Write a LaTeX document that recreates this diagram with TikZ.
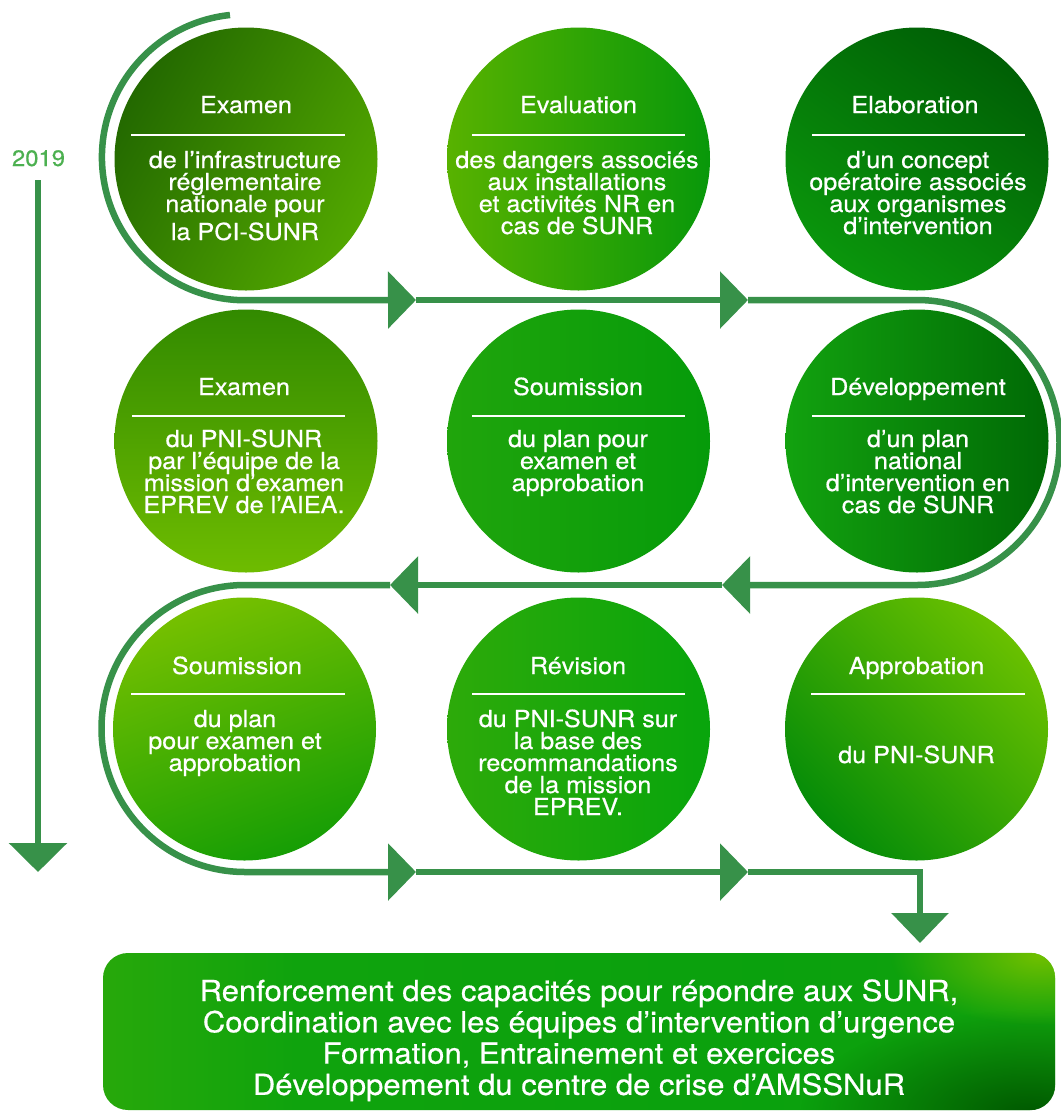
\documentclass[tikz,border=0pt]{standalone}
\usepackage{fontspec}
\setmainfont{TeX Gyre Heros}[FakeStretch=1.07,FakeBold=0.6]
\usetikzlibrary{arrows.meta,calc,fadings}
\definecolor{lnk}{RGB}{55,145,73}
\definecolor{yr}{RGB}{76,176,80}
\definecolor{boxdark}{RGB}{0,88,0}
\definecolor{boxlite}{RGB}{112,192,0}
\tikzfading[name=glow, inner color=transparent!0, outer color=transparent!100]
\pgfdeclarehorizontalshading{boxsh}{100bp}{%
  rgb(0bp)=(0.40,0.73,0.00);
  rgb(20bp)=(0.20,0.67,0.04);
  rgb(35bp)=(0.06,0.64,0.05);
  rgb(60bp)=(0.04,0.63,0.05);
  rgb(85bp)=(0.08,0.63,0.05);
  rgb(100bp)=(0.30,0.68,0.02)}
\newcommand\bodytxt[1]{\parbox[t]{300pt}{\centering\fontsize{23.5}{22}\selectfont\lineskiplimit=-30pt\relax #1\par}}
\tikzset{
  disc/.style={circle, minimum size=263pt, inner sep=0pt},
  ttl/.style={anchor=base, inner sep=0pt, text=white, font=\fontsize{23.5}{26}\selectfont},
  bdy/.style={anchor=base, inner sep=0pt, text=white},
  rulew/.style={white, line width=2pt},
  flow/.style={draw=lnk, line width=6.5pt},
  tipH/.style={-{Triangle[length=28pt,width=56pt]}},
  tipV/.style={-{Triangle[length=30pt,width=56pt]}},
}
\begin{document}
\begin{tikzpicture}[x=1pt,y=-1pt]
\useasboundingbox[fill=white] (0,0) rectangle (1061,1112);

% circles
\node[disc, top color={rgb,255:red,35;green,105;blue,0}, bottom color={rgb,255:red,82;green,167;blue,0}, shading angle=60] (c11) at (246,159) {};
\node[disc, left color={rgb,255:red,88;green,178;blue,0}, right color={rgb,255:red,8;green,152;blue,10}] (c12) at (578.5,159) {};
\node[disc, top color={rgb,255:red,0;green,95;blue,5}, bottom color={rgb,255:red,10;green,150;blue,12}, shading angle=-35] (c13) at (917,159) {};
\node[disc, top color={rgb,255:red,50;green,138;blue,0}, bottom color={rgb,255:red,110;green,188;blue,0}] (c21) at (246,441) {};
\node[disc, left color={rgb,255:red,32;green,165;blue,12}, right color={rgb,255:red,5;green,155;blue,10}] (c22) at (578.5,441) {};
\node[disc, left color={rgb,255:red,18;green,162;blue,15}, right color={rgb,255:red,0;green,105;blue,5}] (c23) at (917,441) {};
\node[disc, top color={rgb,255:red,118;green,192;blue,0}, bottom color={rgb,255:red,22;green,158;blue,5}, shading angle=20] (c31) at (244.5,729) {};
\node[disc, left color={rgb,255:red,45;green,170;blue,10}, right color={rgb,255:red,8;green,165;blue,12}] (c32) at (578.5,729) {};
\node[disc, top color={rgb,255:red,105;green,192;blue,0}, bottom color={rgb,255:red,5;green,140;blue,8}, shading angle=-45] (c33) at (916.5,729) {};

% rules
\draw[rulew] (131,135) -- (345,135);
\draw[rulew] (472,135) -- (685,135);
\draw[rulew] (812,135) -- (1025,135);
\draw[rulew] (132,416) -- (345,416);
\draw[rulew] (472,416) -- (685,416);
\draw[rulew] (812,416) -- (1025,416);
\draw[rulew] (131,694) -- (345,694);
\draw[rulew] (472,694) -- (685,694);
\draw[rulew] (811,694) -- (1025,694);

% titles
\node[ttl] (t11) at (246,113) {Examen};
\node[ttl] (t12) at (578.5,113) {Evaluation};
\node[ttl] (t13) at (915,113) {Elaboration};
\node[ttl] (t21) at (244,395) {Examen};
\node[ttl] (t22) at (578,395) {Soumission};
\node[ttl] (t23) at (918,395) {Développement};
\node[ttl] (t31) at (237,674) {Soumission};
\node[ttl] (t32) at (578,674) {Révision};
\node[ttl] (t33) at (916.5,674) {Approbation};

% bodies
\node[bdy] (b11) at (245,168) {\bodytxt{de l’infrastructure\\réglementaire\\nationale pour\\[6pt]la PCI-SUNR}};
\node[bdy] (b12) at (577,168) {\bodytxt{des dangers associés\\aux installations\\et activités NR en\\cas de SUNR}};
\node[bdy] (b13) at (918,168) {\bodytxt{d’un concept\\opératoire associés\\aux organismes\\d’intervention}};
\node[bdy] (b21) at (244,447) {\bodytxt{du PNI-SUNR\\par l’équipe de la\\mission d’examen\\EPREV de l’AIEA.}};
\node[bdy] (b22) at (578,447) {\bodytxt{du plan pour\\examen et\\approbation}};
\node[bdy] (b23) at (918,447) {\bodytxt{d’un plan\\national\\d’intervention en\\cas de SUNR}};
\node[bdy] (b31) at (235,727) {\bodytxt{du plan\\pour examen et\\approbation}};
\node[bdy] (b32) at (578,727) {\bodytxt{du PNI-SUNR sur\\la base des\\recommandations\\de la mission\\EPREV.}};
\node[bdy] (b33) at (916.5,763) {\bodytxt{du PNI-SUNR}};

% timeline
\node[anchor=base, inner sep=0pt, text=yr, font=\fontsize{22.3}{24}\selectfont] (year) at (38.5,166) {2019};
\coordinate (y0) at (38,180);
\coordinate (y1) at (38,872);
\draw[flow, -{Triangle[length=29pt,width=57pt]}] (y0) -- (y1);

% flow path
\coordinate (s0) at (230,15);
\coordinate (h1) at (416,300);
\coordinate (h2) at (748,300);
\coordinate (k1) at (917,300);
\coordinate (h3) at (722,585);
\coordinate (h4) at (390,585);
\coordinate (k2) at (245,585);
\coordinate (h5) at (416,872);
\coordinate (h6) at (748,872);
\coordinate (k3) at (920,872);
\coordinate (d1) at (920,943);
\draw[flow,tipH] (s0) arc[start angle=264, end angle=90, radius=143] -- (h1);
\draw[flow,tipH] (h1) -- (h2);
\draw[flow,tipH] (h2) -- (k1) arc[start angle=-90, end angle=90, radius=142.5] -- (h3);
\draw[flow,tipH] (h3) -- (h4);
\draw[flow,tipH] (h4) -- (k2) arc[start angle=270, end angle=90, radius=143.5] -- (h5);
\draw[flow,tipH] (h5) -- (h6);
\draw[flow,tipV] (h6) -- (k3) -- (d1);

% final box
\node[rounded corners=25pt, minimum width=952pt, minimum height=157pt, inner sep=0pt,
  shading=boxsh] (box) at (579,1031.5) {};
\begin{scope}
\clip[rounded corners=25pt] (box.south west) rectangle (box.north east);
\fill[boxdark, path fading=glow] (1030,1115) ellipse (230 and 105);
\fill[boxlite, path fading=glow] (1040,955) ellipse (150 and 70);
\end{scope}
\node[bdy] (fin) at (579,1001) {\parbox[t]{950pt}{\centering\fontsize{29}{31.3}\selectfont\lineskiplimit=-30pt\relax
Renforcement des capacités pour répondre aux SUNR,\\
Coordination avec les équipes d’intervention d’urgence\\
Formation, Entrainement et exercices\\
Développement du centre de crise d’AMSSNuR\par}};
\end{tikzpicture}
\end{document}
